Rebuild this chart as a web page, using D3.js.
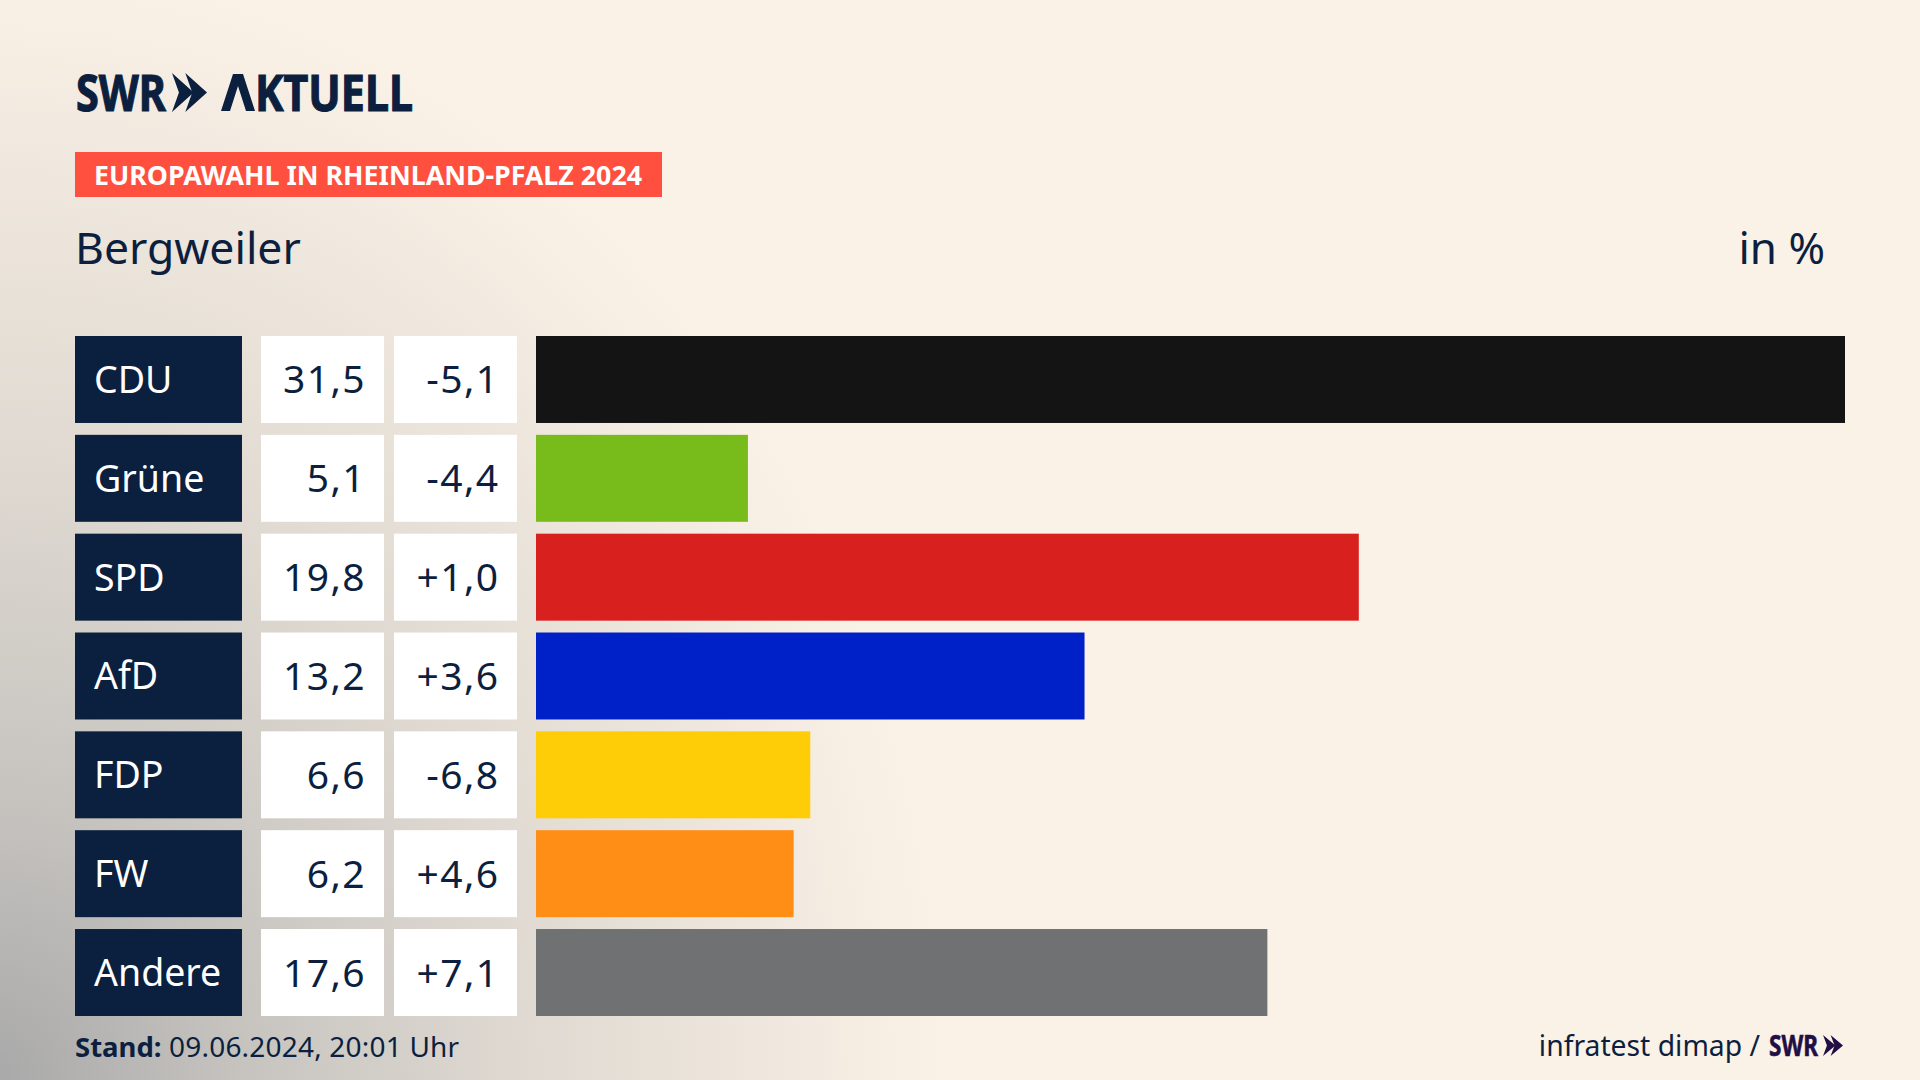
<!DOCTYPE html>
<html lang="de">
<head>
    <meta charset="UTF-8">
    <title>Europawahl in Rheinland-Pfalz 2024 - Bergweiler</title>
    <script src="https://d3js.org/d3.v7.min.js"></script>
    <style>
        html, body { margin: 0; padding: 0; background: #fbf2e7; }
        svg { display: block; }
        text { font-family: "Noto Sans", sans-serif; fill: #0c1f3f; }
    </style>
</head>
<body>
    <script>
        const parties = ["CDU", "Grüne", "SPD", "AfD", "FDP", "FW", "Andere"];
        const shares = [31.5, 5.1, 19.8, 13.2, 6.6, 6.2, 17.6];
        const changes = [-5.1, -4.4, 1.0, 3.6, -6.8, 4.6, 7.1];
        const partyColors = ["#141414", "#78bc1b", "#d8201e", "#0020c8", "#ffcc08", "#ff8e16", "#707173"];

        const width = 1920;
        const height = 1080;
        const navy = "#0b1f3f";

        const svg = d3.select("body").append("svg")
            .attr("width", width)
            .attr("height", height);

        // background: cream with grey glow out of the lower left corner, taller than wide
        const defs = svg.append("defs");
        const glow = defs.append("radialGradient")
            .attr("id", "glow")
            .attr("gradientUnits", "userSpaceOnUse")
            .attr("cx", 0).attr("cy", 0).attr("r", 1)
            .attr("gradientTransform", "translate(0,1080) scale(950,1120)");
        glow.append("stop").attr("offset", "0").attr("stop-color", "#a9a9a9");
        glow.append("stop").attr("offset", "0.25").attr("stop-color", "#c6c3bf");
        glow.append("stop").attr("offset", "0.55").attr("stop-color", "#dfd9d1");
        glow.append("stop").attr("offset", "1").attr("stop-color", "#fbf2e7");
        svg.append("rect").attr("width", width).attr("height", height).attr("fill", "url(#glow)");

        const chevrons = (g, x, y, w, h) => {
            // two arrow heads side by side, the SWR logo mark
            const cw = w * 0.62, offs = [0, w - cw];
            offs.forEach(o => {
                const p = d3.path();
                p.moveTo(x + o, y);
                p.lineTo(x + o + cw, y + h / 2);
                p.lineTo(x + o, y + h);
                p.lineTo(x + o + cw * 0.32, y + h / 2);
                p.closePath();
                g.append("path").attr("d", p.toString());
            });
        };

        // header logo
        const logo = svg.append("g").attr("fill", navy);
        logo.append("text")
            .attr("x", 76).attr("y", 111)
            .attr("font-family", "Open Sans").attr("font-weight", 700).attr("font-size", 51)
            .attr("textLength", 90).attr("lengthAdjust", "spacingAndGlyphs")
            .style("stroke", navy).style("stroke-width", 1.2)
            .text("SWR");
        chevrons(logo, 172, 73, 35, 39);
        const aktuell = logo.append("text")
            .attr("x", 221).attr("y", 111)
            .attr("font-family", "Open Sans").attr("font-weight", 700).attr("font-size", 51)
            .attr("textLength", 192).attr("lengthAdjust", "spacingAndGlyphs")
            .style("stroke", navy).style("stroke-width", 1.2);
        aktuell.append("tspan").style("fill", "none").style("stroke", "none").text("A");
        aktuell.append("tspan").attr("dx", 5).text("KTUELL");
        logo.append("path")
            .attr("d", "M221,111 L233,74 L243,74 L255,111 L246,111 L238,86 L230,111 Z");

        // red badge
        svg.append("rect").attr("x", 75).attr("y", 152).attr("width", 587).attr("height", 45).attr("fill", "#ff4f3e");
        svg.append("text")
            .attr("x", 94).attr("y", 185)
            .attr("font-size", 27).attr("font-weight", 700)
            .attr("textLength", 548).attr("lengthAdjust", "spacingAndGlyphs")
            .style("fill", "#fff")
            .text("EUROPAWAHL IN RHEINLAND-PFALZ 2024");

        svg.append("text").attr("x", 75).attr("y", 264).attr("font-size", 44.5).text("Bergweiler");
        svg.append("text").attr("x", 1825).attr("y", 264).attr("font-size", 44).attr("text-anchor", "end").text("in %");

        // rows
        const y = d3.scaleBand().domain(parties).range([336, 1016]).paddingInner(0.12);
        const x = d3.scaleLinear().domain([0, 31.5]).range([536, 1845]);
        const color = d3.scaleOrdinal(parties, partyColors);

        const fmtShare = d => d.toFixed(1).replace(".", ",");
        const fmtChange = d => (d > 0 ? "+" : "") + d.toFixed(1).replace(".", ",");

        const rows = svg.append("g").selectAll("g")
            .data(parties)
            .join("g")
            .attr("transform", d => `translate(0,${y(d)})`);

        const bh = y.bandwidth();
        const baseline = bh / 2 + 13;

        rows.append("rect").attr("x", 75).attr("width", 167).attr("height", bh).attr("fill", navy);
        rows.append("text").attr("x", 94).attr("y", baseline + 0.5).attr("font-size", 37.5)
            .style("fill", "#fff").text(d => d);

        rows.append("rect").attr("x", 261).attr("width", 123).attr("height", bh).attr("fill", "#fff");
        rows.append("text").attr("x", 366).attr("y", baseline + 1).attr("font-size", 39).attr("letter-spacing", 1.4)
            .attr("text-anchor", "end")
            .text((d, i) => fmtShare(shares[i]));

        rows.append("rect").attr("x", 394).attr("width", 123).attr("height", bh).attr("fill", "#fff");
        rows.append("text").attr("x", 499.5).attr("y", baseline + 1).attr("font-size", 39).attr("letter-spacing", 1.4)
            .attr("text-anchor", "end")
            .text((d, i) => fmtChange(changes[i]));

        rows.append("rect")
            .attr("x", x(0))
            .attr("width", (d, i) => x(shares[i]) - x(0))
            .attr("height", bh)
            .attr("fill", d => color(d));

        // footer
        const stand = svg.append("text").attr("x", 75).attr("y", 1057).attr("font-size", 28);
        stand.append("tspan").attr("font-weight", 700).attr("font-size", 27.5).text("Stand:");
        stand.append("tspan").attr("letter-spacing", 0.2).text(" 09.06.2024, 20:01 Uhr");

        svg.append("text").attr("x", 1760).attr("y", 1056).attr("font-size", 28.3).attr("text-anchor", "end")
            .text("infratest dimap /");

        const credit = svg.append("g").attr("fill", "#1f0f45");
        credit.append("text")
            .attr("x", 1769).attr("y", 1056)
            .attr("font-family", "Open Sans").attr("font-weight", 700).attr("font-size", 29)
            .attr("textLength", 49).attr("lengthAdjust", "spacingAndGlyphs")
            .style("fill", "#1f0f45").style("stroke", "#1f0f45").style("stroke-width", 0.6)
            .text("SWR");
        chevrons(credit, 1823, 1035, 20, 21);
    </script>
</body>
</html>
